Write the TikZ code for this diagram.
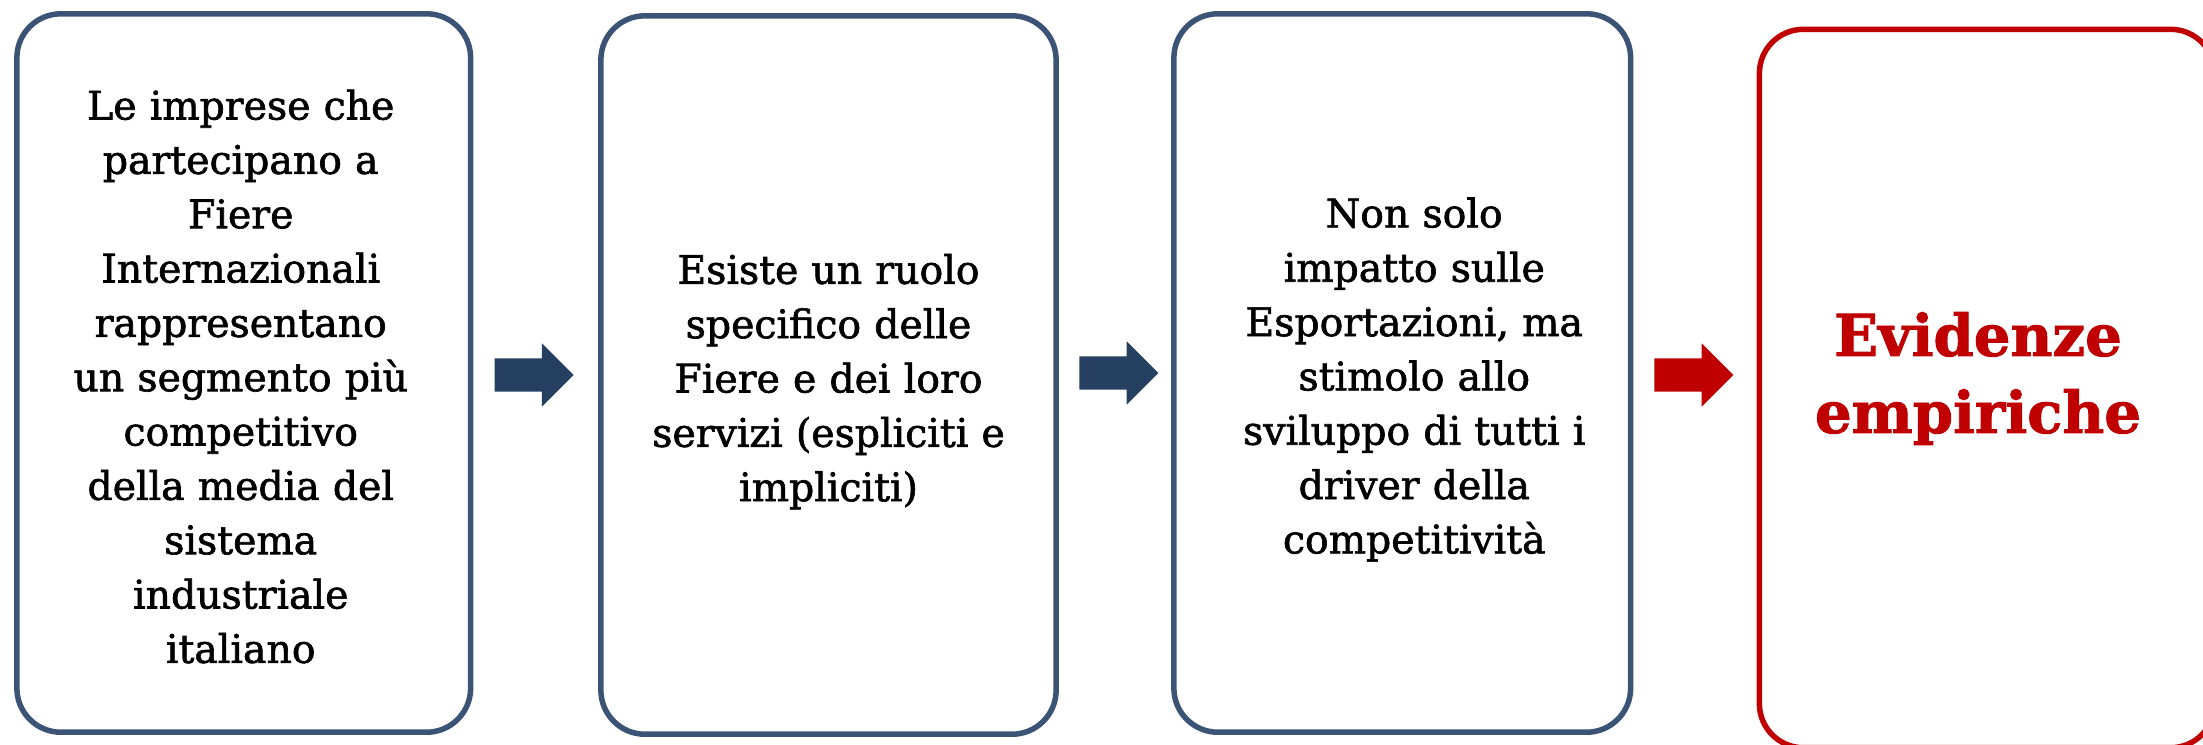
\documentclass[tikz,border=0pt]{standalone}
\usepackage{fontspec}
\setmainfont{DejaVu Serif}
\newfontfamily\bodyfont{DejaVu Serif}[FakeBold=1.6]
\newfontfamily\bigfont{DejaVu Serif}[BoldFeatures={FakeBold=1.6}]
\usetikzlibrary{shapes.arrows,calc}
\definecolor{boxblue}{HTML}{3B5375}
\definecolor{arrblue}{HTML}{254061}
\definecolor{boxred}{HTML}{C00000}
\begin{document}
\begin{tikzpicture}[x=0.01cm,y=-0.01cm,
  panel/.style={draw=boxblue, line width=0.055cm, rounded corners=0.44cm,
    minimum height=7.18cm, inner sep=0pt, fill=white},
  redpanel/.style={panel, draw=boxred},
  bodytext/.style={align=center, text width=4.3cm, inner sep=0pt,
    font=\bodyfont\fontsize{11.2pt}{15.45pt}\selectfont},
  bigtext/.style={align=center, text width=4.4cm, inner sep=0pt, text=boxred,
    font=\bigfont\bfseries\fontsize{16.4pt}{21.9pt}\selectfont},
  flow/.style={single arrow, draw=none, fill=arrblue, minimum height=0.79cm,
    inner sep=0.16cm, single arrow head extend=0.15cm, single arrow tip angle=90,
    minimum width=0pt},
  redflow/.style={flow, fill=boxred}]
\useasboundingbox (0,0) rectangle (2203,744);
\clip (0,0) rectangle (2203,744);

\node[panel, minimum width=4.535cm] (b1) at (243.75,373) {};
\node[panel, minimum width=4.55cm]  (b2) at (828.5,375) {};
\node[panel, minimum width=4.565cm] (b3) at (1402.25,373) {};
\node[redpanel, minimum width=4.55cm] (b4) at (1987,388.5) {};

\node[bodytext] (t1) at ($(b1.center)+(-3,3.5)$) {Le imprese che\\ partecipano a\\ Fiere\\ Internazionali\\ rappresentano\\ un segmento più\\ competitivo\\ della media del\\ sistema\\ industriale\\ italiano};
\node[bodytext] (t2) at ($(b2.center)+(0,6.6)$) {Esiste un ruolo\\ specifico delle\\ Fiere e dei loro\\ servizi (espliciti e\\ impliciti)};
\node[bodytext] (t3) at ($(b3.center)+(12,6.5)$) {Non solo\\ impatto sulle\\ Esportazioni, ma\\ stimolo allo\\ sviluppo di tutti i\\ driver della\\ competitività};
\node[bigtext] (t4) at ($(b4.center)+(-9,-10)$) {Evidenze\\ empiriche};

\node[flow] (a1) at ($(b1.east)!0.5!(b2.west)+(-10,1)$) {};
\node[flow] (a2) at ($(b2.east)!0.5!(b3.west)+(-4.5,-1)$) {};
\node[redflow] (a3) at ($(b3.east)!0.5!(b4.west)+(-9.5,-5.75)$) {};
\end{tikzpicture}
\end{document}
